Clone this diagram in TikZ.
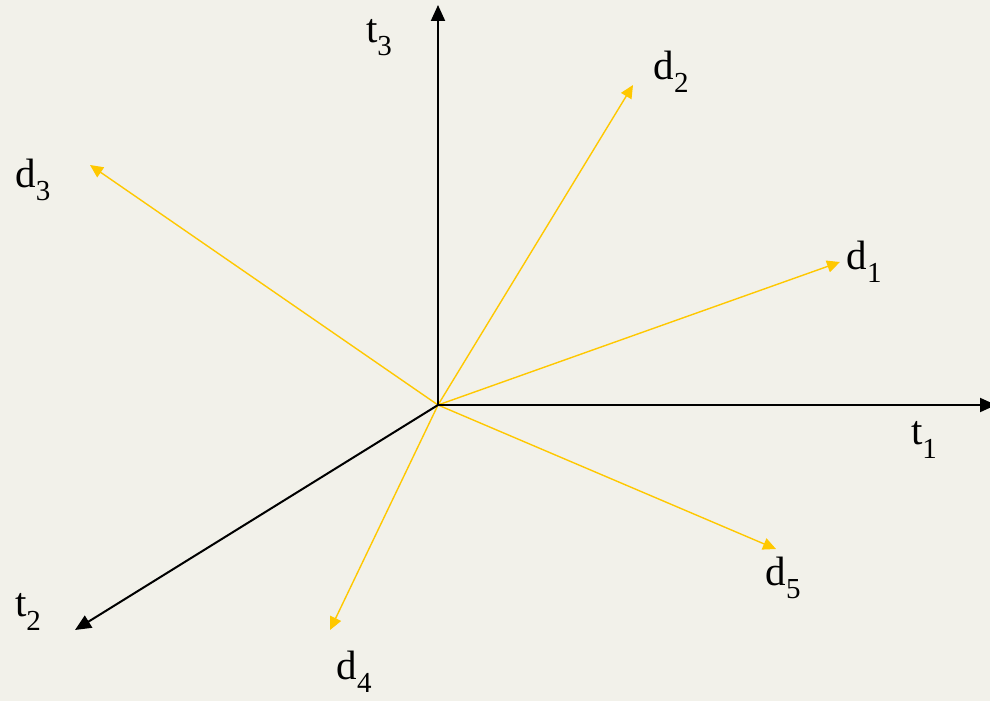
\documentclass[tikz,border=0pt]{standalone}
\usepackage{fontspec}
\setmainfont{Liberation Serif}
\usetikzlibrary{arrows.meta}
\definecolor{bgc}{HTML}{F2F1EA}
\definecolor{yel}{HTML}{FFC800}
\newcommand{\lab}[2]{#1\raisebox{-0.32em}{\fontsize{29}{29}\selectfont #2}}
\begin{document}
\begin{tikzpicture}[x=1pt,y=-1pt,
  axis/.style={line width=2pt,black,-{Triangle[length=16pt,width=14pt]}},
  vec/.style={line width=1.4pt,yel,-{Triangle[length=13pt,width=12pt]}},
  lbl/.style={font=\fontsize{41}{41}\selectfont,inner sep=0pt}]
\fill[bgc] (0,0) rectangle (990,701);
\useasboundingbox (0,0) rectangle (990,701);
\coordinate (o) at (438,405);
\coordinate (t1e) at (996,405);
\coordinate (t2e) at (75,630);
\coordinate (t3e) at (438,5);
\coordinate (d1e) at (840,262);
\coordinate (d2e) at (633,85);
\coordinate (d3e) at (90,165);
\coordinate (d4e) at (330,630);
\coordinate (d5e) at (776,549);
\draw[vec] (o) -- (d1e);
\draw[vec] (o) -- (d2e);
\draw[vec] (o) -- (d3e);
\draw[vec] (o) -- (d4e);
\draw[vec] (o) -- (d5e);
\begin{scope}
\clip (0,0) rectangle (990,701);
\draw[axis] (o) -- (t1e);
\end{scope}
\draw[axis] (o) -- (t2e);
\draw[axis] (o) -- (t3e);
\node[lbl] (lt1) at (924,440) {\lab{t}{1}};
\node[lbl] (lt2) at (28,612) {\lab{t}{2}};
\node[lbl] (lt3) at (379,38) {\lab{t}{3}};
\node[lbl] (ld1) at (864,262) {\lab{d}{1}};
\node[lbl] (ld2) at (671,72) {\lab{d}{2}};
\node[lbl] (ld3) at (33,180) {\lab{d}{3}};
\node[lbl] (ld4) at (354,672) {\lab{d}{4}};
\node[lbl] (ld5) at (783,578) {\lab{d}{5}};
\end{tikzpicture}
\end{document}
